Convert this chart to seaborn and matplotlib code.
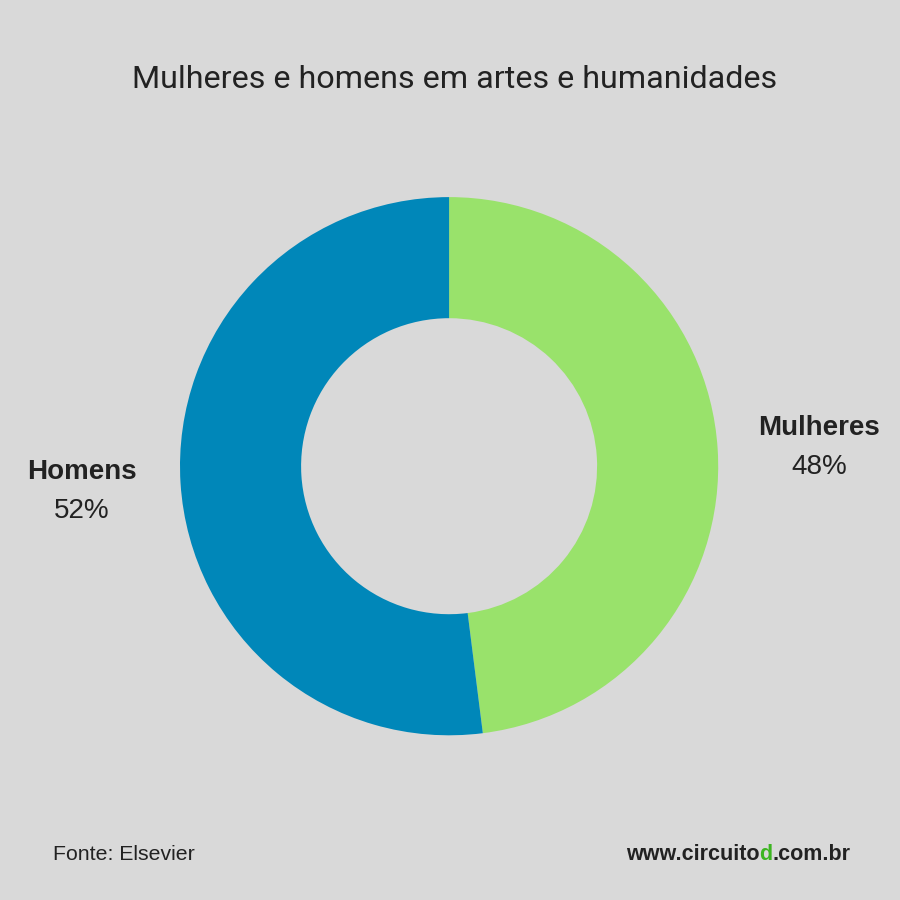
import matplotlib
matplotlib.use("Agg")
import matplotlib.pyplot as plt
import seaborn as sns

categories = ["Mulheres", "Homens"]
values = [48, 52]
pct_labels = ["48%", "52%"]
colors = ["#99e26b", "#0087b9"]

title = "Mulheres e homens em artes e humanidades"
source = "Fonte: Elsevier"
site_parts = ["www.circuito", "d", ".com.br"]

sns.set_theme(style="white")
plt.rcParams["font.family"] = ["Liberation Sans", "DejaVu Sans"]
BG = "#d9d9d9"
TXT = "#222222"

fig = plt.figure(figsize=(9, 9), dpi=100, facecolor=BG)
ax = fig.add_axes([0.2, 0.183, 0.598, 0.598])
ax.set_facecolor(BG)
ax.pie(values, colors=colors, startangle=90, counterclock=False,
       radius=1.0, wedgeprops=dict(width=0.45, edgecolor="none"))
ax.set_xlim(-1, 1)
ax.set_ylim(-1, 1)
ax.set_aspect("equal")
ax.axis("off")

fig.text(455 / 900, 1 - 79 / 900, title, ha="center", va="center",
         fontsize=23.2, color=TXT, family=["Roboto", "DejaVu Sans"])

# slice labels
lab_pos = {"Mulheres": (819, 428), "Homens": (82, 472)}
for cat, pct in zip(categories, pct_labels):
    x, y = lab_pos[cat]
    fig.text(x / 900, 1 - y / 900, cat, ha="center", va="center",
             fontsize=20, fontweight="bold", color=TXT)
    fig.text(x / 900, 1 - (y + 39) / 900, pct, ha="center", va="center",
             fontsize=20, color=TXT)

fig.text(53 / 900, 1 - 854 / 900, source, ha="left", va="center",
         fontsize=15.3, color=TXT)

t1 = fig.text(626 / 900, 1 - 854 / 900, site_parts[0], ha="left", va="center",
              fontsize=15.5, fontweight="bold", color=TXT)
a = ax.annotate(site_parts[1], xy=(1, 0.5), xycoords=t1, ha="left", va="center",
                fontsize=15.5, fontweight="bold", color="#3cb521", annotation_clip=False)
ax.annotate(site_parts[2], xy=(1, 0.5), xycoords=a, ha="left", va="center",
            fontsize=15.5, fontweight="bold", color=TXT, annotation_clip=False)

fig.savefig("out.png", dpi=100, facecolor=BG)
